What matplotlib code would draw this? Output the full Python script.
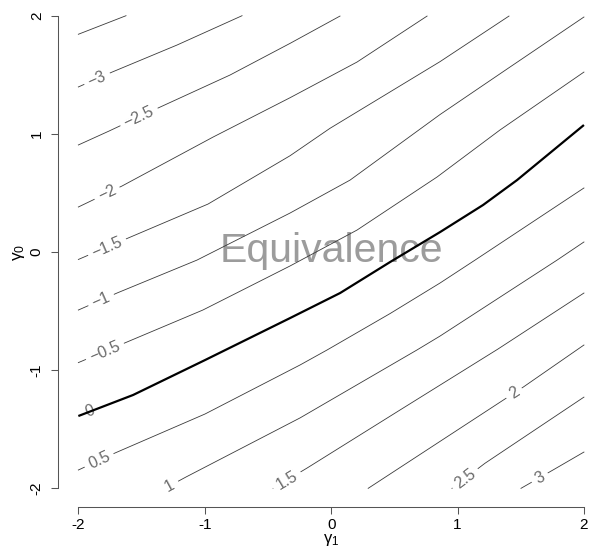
import numpy as np
from matplotlib import pyplot as plt


# contour levels (gamma1 = x, gamma0 = y)
levels = [-3.5, -3, -2.5, -2, -1.5, -1, -0.5, 0, 0.5, 1, 1.5, 2, 2.5, 3]

line_g1 = [
    [-2.0, -1.623],
    [-2.0, -1.733, -1.219, -0.705],
    [-2.0, -1.757, -1.369, -0.800, -0.325, 0.070],
    [-2.0, -1.654, -0.934, -0.325, 0.205, 0.759],
    [-2.0, -1.607, -0.974, -0.325, -0.009, 0.861, 1.407],
    [-2.0, -1.694, -1.061, -0.325, 0.150, 0.862, 1.392, 2.0],
    [-2.0, -1.616, -1.015, -0.325, 0.205, 0.838, 1.336, 2.0],
    [-2.0, -1.567, -0.997, -0.325, 0.071, 0.466, 0.862, 1.202, 1.471, 2.0],
    [-2.0, -1.710, -0.998, -0.246, -0.032, 0.466, 0.862, 1.139, 2.0],
    [-1.314, -1.148, -0.246, 0.679, 0.862, 1.788, 2.0],
    [-0.459, -0.190, 0.545, 1.320, 2.0],
    [0.293, 1.362, 1.520, 2.0],
    [0.956, 1.217, 2.0],
    [1.502, 1.755, 2.0],
]

line_g0 = [
    [1.843, 2.0],
    [1.397, 1.523, 1.752, 2.0],
    [0.906, 1.024, 1.219, 1.498, 1.766, 1.997],
    [0.381, 0.559, 0.973, 1.306, 1.608, 1.997],
    [-0.063, 0.118, 0.406, 0.815, 1.047, 1.611, 1.997],
    [-0.491, -0.347, -0.068, 0.330, 0.609, 1.164, 1.549, 1.989],
    [-0.936, -0.762, -0.491, -0.118, 0.186, 0.635, 1.033, 1.523],
    [-1.388, -1.210, -0.914, -0.559, -0.347, -0.085, 0.169, 0.398, 0.609, 1.075],
    [-1.845, -1.701, -1.371, -0.956, -0.829, -0.521, -0.262, -0.068, 0.542],
    [-2.0, -1.904, -1.404, -0.829, -0.711, -0.068, 0.085],
    [-2.0, -1.828, -1.337, -0.821, -0.347],
    [-2.0, -1.253, -1.143, -0.787],
    [-2.0, -1.788, -1.228],
    [-2.0, -1.845, -1.693],
]

# where each contour label sits along its line (gamma1), None = no label
label_g1 = [None, -1.852, -1.520, -1.773, -1.773, -1.820, -1.790, -1.908,
            -1.836, -1.275, -0.350, 1.447, 1.060, 1.650]

ticks = [-2, -1, 0, 1, 2]
tick_labels = ["-2", "-1", "0", "1", "2"]

plt.rcParams["font.family"] = ["Liberation Sans", "DejaVu Sans"]
plt.rcParams["mathtext.fontset"] = "custom"
plt.rcParams["mathtext.rm"] = "Liberation Sans"


def label_text(lev):
    return f"{lev:g}".replace("-", "\u2212")


def plot_contours():
    fig = plt.figure(figsize=(5.9, 5.5), dpi=100)
    ax = fig.add_axes([58 / 590, 43 / 550, 532 / 590, 507 / 550])

    for lev, xs, ys, lx in zip(levels, line_g1, line_g0, label_g1):
        if lev == 0:
            ax.plot(xs, ys, color="black", lw=1.6, zorder=4, solid_capstyle="butt")
        else:
            ax.plot(xs, ys, color="#3a3a3a", lw=0.6, zorder=2)
        if lx is None:
            continue
        ly = np.interp(lx, xs, ys)
        i = max(0, min(np.searchsorted(xs, lx) - 1, len(xs) - 2))
        ang = np.degrees(np.arctan2(ys[i + 1] - ys[i], xs[i + 1] - xs[i]))
        ax.text(lx, ly, label_text(lev), fontsize=11.5, color="#6a6a6a",
                ha="center", va="center", rotation=ang,
                rotation_mode="anchor", transform_rotates_text=True,
                bbox=dict(boxstyle="square,pad=0.3", fc="white", ec="none"),
                zorder=3)

    ax.text(0, -0.082, "Equivalence", fontsize=29.5, color="#9c9c9c",
            ha="center", va="baseline", zorder=1)

    ax.set_xlim(-2.161, 2.048)
    ax.set_ylim(-2.158, 2.133)
    for side in ["top", "right"]:
        ax.spines[side].set_visible(False)
    for side in ["left", "bottom"]:
        ax.spines[side].set_bounds(-2, 2)
        ax.spines[side].set_color("#555555")
        ax.spines[side].set_linewidth(0.75)

    ax.set_xticks(ticks)
    ax.set_xticklabels(tick_labels)
    ax.set_yticks(ticks)
    ax.set_yticklabels(tick_labels, rotation=90, va="center")
    ax.tick_params(axis="both", length=4.75, width=0.75, color="#555555",
                   labelsize=11, labelcolor="black")
    ax.tick_params(axis="x", pad=3.5)
    ax.tick_params(axis="y", pad=5.5)

    ax.set_xlabel(r"$\mathregular{γ_1}$", fontsize=12)
    ax.set_ylabel(r"$\mathregular{γ_0}$", fontsize=12.5)
    ax.xaxis.set_label_coords((331.1 - 58) / 532, (507 - 532) / 507)
    ax.yaxis.set_label_coords((27 - 58) / 532, (507 - 252) / 507)

    plt.savefig("out.png", dpi=100)
    plt.close()


if __name__ == "__main__":
    plot_contours()
